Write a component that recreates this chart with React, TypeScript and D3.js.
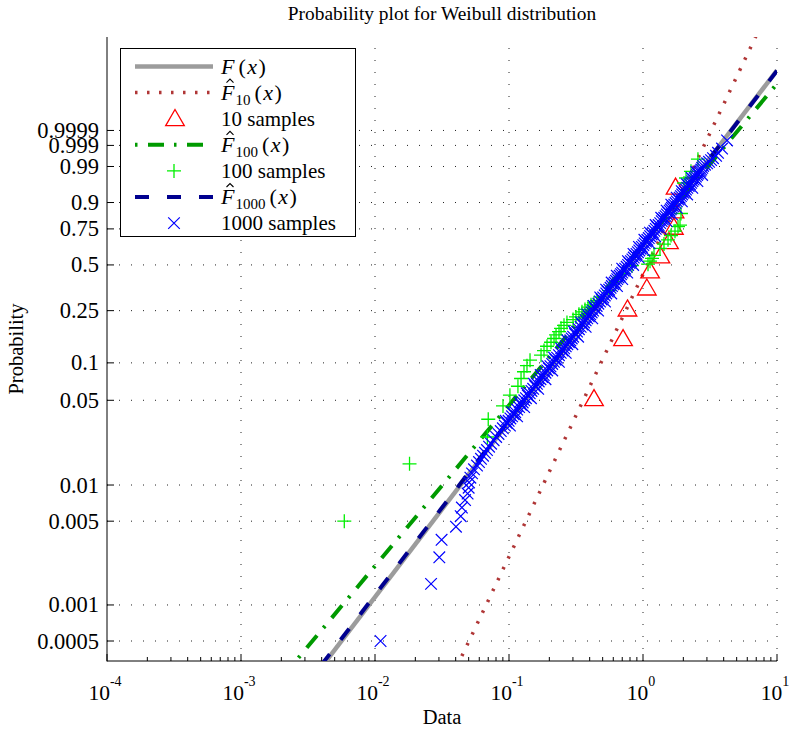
import React from 'react';
import * as d3 from 'd3';

const W = 789;
const H = 730;
const AX = { left: 107, right: 777, top: 37, bottom: 661 };

const titleText = 'Probability plot for Weibull distribution';
const xLabelText = 'Data';
const yLabelText = 'Probability';

const xTickExps = [-4, -3, -2, -1, 0, 1];
const yTickProbs = [0.0005, 0.001, 0.005, 0.01, 0.05, 0.1, 0.25, 0.5, 0.75, 0.9, 0.99, 0.999, 0.9999];
const yTickLabels = ['0.0005', '0.001', '0.005', '0.01', '0.05', '0.1', '0.25', '0.5', '0.75', '0.9', '0.99', '0.999', '0.9999'];
// y axis is log10 of the cumulative hazard, -ln(1-p)
const yDomain = [-3.468, 1.745];

// Weibull fits: F(x), F10, F100, F1000
const fitScales = [1.0, 1.26, 0.98, 0.995];
const fitShapes = [1.467, 2.36, 1.343, 1.46];

const samples10X = [0.431, 0.71, 0.766, 1.068, 1.13, 1.349, 1.563, 1.7, 1.72, 1.75];
const samples10P = [0.05, 0.15, 0.25, 0.35, 0.45, 0.55, 0.65, 0.75, 0.85, 0.95];

const samples100P = [0.005, 0.015, 0.025, 0.035, 0.045, 0.055, 0.065, 0.075, 0.085, 0.095, 0.105, 0.115, 0.125, 0.135, 0.145, 0.155, 0.165, 0.175, 0.185, 0.195, 0.205, 0.215, 0.225, 0.235, 0.245, 0.255, 0.265, 0.275, 0.285, 0.295, 0.345, 0.395, 0.445, 0.495, 0.505, 0.525, 0.545, 0.565, 0.615, 0.645, 0.675, 0.705, 0.735, 0.765, 0.775, 0.845, 0.965, 0.975, 0.985, 0.995];
const samples100X = [0.0059, 0.0181, 0.069, 0.07, 0.0902, 0.1016, 0.1166, 0.123, 0.1294, 0.1362, 0.1435, 0.1734, 0.1825, 0.1922, 0.2058, 0.2168, 0.2244, 0.2362, 0.2445, 0.2573, 0.2708, 0.3006, 0.3162, 0.3327, 0.3505, 0.369, 0.3886, 0.4093, 0.4307, 0.4535, 0.5577, 0.629, 0.71, 0.828, 1.09, 1.128, 1.167, 1.208, 1.339, 1.434, 1.537, 1.618, 1.733, 1.825, 1.889, 1.921, 2.023, 2.094, 2.28, 2.57];

// 1000 samples: band centre, then the band's right and left edges
const samples1000P = [
  0.0005, 0.0015, 0.0025, 0.0035, 0.0045, 0.0055, 0.0065, 0.0075, 0.0085, 0.0095,
  0.0105, 0.0115, 0.0125, 0.0135, 0.0145, 0.0155, 0.0165, 0.0175, 0.0185, 0.0195,
  0.0208, 0.022, 0.0235, 0.025, 0.0265, 0.028, 0.0295, 0.031, 0.0325, 0.034,
  0.0355, 0.037, 0.0385, 0.04, 0.042, 0.044, 0.046, 0.048, 0.05, 0.052,
  0.0545, 0.057, 0.0595, 0.062, 0.065, 0.068, 0.071, 0.074, 0.077, 0.08,
  0.0835, 0.087, 0.0905, 0.094, 0.098, 0.102, 0.106, 0.11, 0.115, 0.12,
  0.125, 0.13, 0.135, 0.14, 0.145, 0.15, 0.155, 0.16, 0.1675, 0.175,
  0.1825, 0.19, 0.1975, 0.205, 0.2125, 0.22, 0.2275, 0.235, 0.2425, 0.25,
  0.26, 0.27, 0.28, 0.29, 0.3, 0.31, 0.32, 0.33, 0.34, 0.35,
  0.36, 0.37, 0.38, 0.39, 0.4, 0.41, 0.42, 0.43, 0.44, 0.45,
  0.4625, 0.475, 0.4875, 0.5, 0.5125, 0.525, 0.5375, 0.55, 0.5625, 0.575,
  0.5875, 0.6, 0.6125, 0.625, 0.6375, 0.65, 0.6625, 0.675, 0.6875, 0.7,
  0.7125, 0.725, 0.7375, 0.75, 0.7625, 0.775, 0.7875, 0.8, 0.81, 0.82,
  0.83, 0.84, 0.85, 0.86, 0.8675, 0.875, 0.8825, 0.89, 0.8975, 0.905,
  0.9125, 0.92, 0.926, 0.932, 0.9375, 0.943, 0.948, 0.953, 0.9575, 0.962,
  0.9655, 0.969, 0.972, 0.975, 0.9775, 0.98, 0.982, 0.984, 0.9855, 0.987, 0.9888,
  0.9905, 0.9915, 0.9925, 0.9935, 0.9945, 0.9955, 0.9965, 0.9975, 0.9985, 0.9995,
  // right edge
  0.031, 0.037, 0.044, 0.052, 0.062, 0.074, 0.087, 0.102, 0.12, 0.14, 0.16, 0.19, 0.22, 0.25, 0.29, 0.33, 0.37,
  0.41, 0.45, 0.5, 0.55, 0.6, 0.65, 0.7, 0.75, 0.8, 0.84, 0.875, 0.905, 0.932, 0.953, 0.969, 0.98,
  // left edge
  0.034, 0.04, 0.048, 0.057, 0.068, 0.08, 0.094, 0.11, 0.13, 0.15, 0.175, 0.205, 0.235, 0.27, 0.31, 0.35, 0.39,
  0.43, 0.475, 0.525, 0.575, 0.625, 0.675, 0.725, 0.775, 0.82, 0.86, 0.89, 0.92, 0.943, 0.962, 0.975, 0.984];
const samples1000X = [
  0.011, 0.0262, 0.0302, 0.0314, 0.0402, 0.0436, 0.0445, 0.047, 0.0491, 0.05,
  0.0503, 0.0515, 0.053, 0.0548, 0.0577, 0.0597, 0.0618, 0.064, 0.0662, 0.0685,
  0.071, 0.0735, 0.0768, 0.0802, 0.0835, 0.0868, 0.09, 0.0932, 0.0963, 0.0994,
  0.1024, 0.1054, 0.1083, 0.1113, 0.1151, 0.119, 0.1227, 0.1265, 0.1301, 0.1338,
  0.1383, 0.1428, 0.1471, 0.1515, 0.1566, 0.1617, 0.1667, 0.1717, 0.1766, 0.1816,
  0.1872, 0.1928, 0.1983, 0.2039, 0.2101, 0.2163, 0.2223, 0.2284, 0.2358, 0.2432,
  0.2506, 0.258, 0.2652, 0.2724, 0.2796, 0.2869, 0.2939, 0.3009, 0.3114, 0.3219,
  0.3322, 0.3425, 0.3528, 0.3632, 0.3734, 0.3836, 0.3937, 0.4039, 0.4139, 0.424,
  0.4374, 0.4508, 0.4642, 0.4777, 0.4912, 0.5048, 0.5183, 0.5318, 0.5454, 0.5591,
  0.5728, 0.5866, 0.6004, 0.6143, 0.6283, 0.6423, 0.6565, 0.6708, 0.6853, 0.6998,
  0.7181, 0.7365, 0.7555, 0.7745, 0.7938, 0.8131, 0.8332, 0.8533, 0.8739, 0.8946,
  0.9161, 0.9376, 0.9599, 0.9822, 1.0057, 1.0292, 1.0537, 1.0782, 1.1042, 1.1303,
  1.158, 1.1858, 1.2155, 1.2452, 1.2772, 1.3092, 1.3442, 1.3793, 1.4097, 1.4401,
  1.4737, 1.5074, 1.5445, 1.5817, 1.6126, 1.6435, 1.6778, 1.7122, 1.7507, 1.7892,
  1.8334, 1.8776, 1.9187, 1.9598, 2.0034, 2.047, 2.0937, 2.1405, 2.1906, 2.2408,
  2.2882, 2.3357, 2.3846, 2.4335, 2.4835, 2.5335, 2.5825, 2.6316, 2.6766, 2.7216, 2.7658,
  2.81, 2.9, 3.01, 3.11, 3.22, 3.33, 3.51, 3.63, 3.89, 4.24,
  // right edge
  0.1016, 0.1149, 0.1297, 0.1458, 0.1651, 0.1872, 0.2102, 0.2358, 0.2651, 0.2969, 0.328, 0.3733, 0.4181, 0.4622, 0.5207, 0.5797, 0.6394,
  0.7001, 0.7628, 0.8442, 0.9301, 1.022, 1.1218, 1.232, 1.3573, 1.5034, 1.6431, 1.7914, 1.9502, 2.1362, 2.3331, 2.5459, 2.7615,
  // left edge
  0.0944, 0.1057, 0.1202, 0.1357, 0.1536, 0.1725, 0.1937, 0.217, 0.2451, 0.2726, 0.3058, 0.345, 0.3837, 0.4283, 0.4796, 0.5311, 0.5836,
  0.6373, 0.6997, 0.7724, 0.8499, 0.9331, 1.0243, 1.1265, 1.2437, 1.3681, 1.5026, 1.6266, 1.7837, 1.9447, 2.1288, 2.3118, 2.5];

const COL = {
  F: '#9c9c9c',
  F10: '#b03636',
  tri: '#ff0000',
  F100: '#009a00',
  plus: '#00f000',
  F1000: '#00008f',
  cross: '#0000ff',
};

const FONT = '"Liberation Serif", "Times New Roman", Times, serif';

const xS = d3.scaleLog().domain([1e-4, 1e1]).range([AX.left, AX.right]);
const yS = d3.scaleLinear().domain(yDomain).range([AX.bottom, AX.top]);
const wt = (p: number) => Math.log10(-Math.log(1 - p));

function triPath(cx: number, cy: number) {
  return `M${cx},${cy - 10.7}L${cx + 9.3},${cy + 5.35}L${cx - 9.3},${cy + 5.35}Z`;
}
function plusPath(cx: number, cy: number) {
  const r = 7;
  return `M${cx - r},${cy}H${cx + r}M${cx},${cy - r}V${cy + r}`;
}
function crossPath(cx: number, cy: number) {
  const r = 5.8;
  return `M${cx - r},${cy - r}L${cx + r},${cy + r}M${cx - r},${cy + r}L${cx + r},${cy - r}`;
}

function fitLine(i: number) {
  const xs = [1e-4, 1e1];
  const line = d3.line<number>()
    .x((x) => xS(x))
    .y((x) => yS(fitShapes[i] * (Math.log10(x) - Math.log10(fitScales[i]))));
  return line(xs) || '';
}

const lineStyles = [
  { stroke: COL.F, width: 4.5, dash: undefined as string | undefined },
  { stroke: COL.F10, width: 3.5, dash: '2.5,9.5' },
  { stroke: COL.F100, width: 4, dash: '16,10,2.5,10.5' },
  { stroke: COL.F1000, width: 4, dash: '14,18' },
];

function Hat({ x, y }: { x: number; y: number }) {
  return <path d={`M${x - 3.5},${y + 2}L${x},${y - 1.5}L${x + 3.5},${y + 2}`} fill="none" stroke="#000" strokeWidth={1.1} />;
}

export default function App() {
  const ticksMinorX: number[] = [];
  for (let e = -4; e < 1; e++) {
    for (let k = 2; k <= 9; k++) ticksMinorX.push(k * Math.pow(10, e));
  }

  const legendRows = [0, 1, 2, 3, 4, 5, 6].map((i) => 66.5 + 26.1 * i);
  const lgX0 = 135, lgX1 = 213, lgMid = 174, lgText = 221;

  const fitLabel = (sub: string | null, ry: number) => (
    <g>
      {sub !== null && <Hat x={lgText + 9} y={ry - 12} />}
      <text x={lgText} y={ry + 7} fontFamily={FONT} fontSize={22}>
        <tspan fontStyle="italic">F</tspan>
        {sub !== null ? (
          <>
            <tspan fontSize={15} dx={1} dy={5}>{sub}</tspan>
            <tspan dy={-5} dx={4}>(</tspan>
          </>
        ) : (
          <tspan dx={4}>(</tspan>
        )}
        <tspan fontStyle="italic" dx={1.5}>x</tspan>
        <tspan dx={1.5}>)</tspan>
      </text>
    </g>
  );

  return (
    <svg width={W} height={H} style={{ position: 'absolute', left: 0, top: 0, background: '#fff' }}>
      <defs>
        <clipPath id="plotClip">
          <rect x={AX.left} y={AX.top} width={AX.right - AX.left} height={AX.bottom - AX.top} />
        </clipPath>
      </defs>
      <rect x={0} y={0} width={W} height={H} fill="#fff" />

      {/* grid */}
      <g stroke="#222" strokeWidth={1} strokeDasharray="1,11" fill="none">
        {xTickExps.slice(1).map((e) => (
          <line key={'gx' + e} x1={xS(Math.pow(10, e))} x2={xS(Math.pow(10, e))} y1={AX.bottom} y2={AX.top} />
        ))}
        {yTickProbs.map((p) => (
          <line key={'gy' + p} x1={AX.left} x2={AX.right} y1={yS(wt(p))} y2={yS(wt(p))} />
        ))}
      </g>

      {/* axes */}
      <g stroke="#000" strokeWidth={1} fill="none">
        <line x1={AX.left} x2={AX.left} y1={AX.top} y2={AX.bottom + 0.5} />
        <line x1={AX.left} x2={AX.right} y1={AX.bottom} y2={AX.bottom} />
        {yTickProbs.map((p) => (
          <line key={'ty' + p} x1={AX.left} x2={AX.left + 7} y1={yS(wt(p))} y2={yS(wt(p))} />
        ))}
        {xTickExps.map((e) => (
          <line key={'tx' + e} x1={xS(Math.pow(10, e))} x2={xS(Math.pow(10, e))} y1={AX.bottom} y2={AX.bottom - 7} />
        ))}
        {ticksMinorX.map((v) => (
          <line key={'mx' + v} x1={xS(v)} x2={xS(v)} y1={AX.bottom} y2={AX.bottom - 4} />
        ))}
      </g>

      {/* y tick labels */}
      <g fontFamily={FONT} fontSize={22.5} textAnchor="end" fill="#000">
        {yTickProbs.map((p, i) => (
          <text key={'ly' + p} x={99} y={yS(wt(p)) + 7.5}>{yTickLabels[i]}</text>
        ))}
      </g>
      {/* x tick labels */}
      <g fontFamily={FONT} fill="#000" textAnchor="middle">
        {xTickExps.map((e) => (
          <text key={'lx' + e} x={xS(Math.pow(10, e)) - 2} y={700} fontSize={21.5}>
            10<tspan fontSize={14} dy={-14}>{e < 0 ? '-' + Math.abs(e) : String(e)}</tspan>
          </text>
        ))}
      </g>

      {/* data */}
      <g clipPath="url(#plotClip)">
        {[0, 1].map((i) => (
          <path key={'fit' + i} d={fitLine(i)} fill="none" stroke={lineStyles[i].stroke} strokeWidth={lineStyles[i].width} strokeDasharray={lineStyles[i].dash} />
        ))}
        {samples10X.map((x, i) => (
          <path key={'s10' + i} d={triPath(xS(x), yS(wt(samples10P[i])))} fill="none" stroke={COL.tri} strokeWidth={1.3} />
        ))}
        <path d={fitLine(2)} fill="none" stroke={lineStyles[2].stroke} strokeWidth={lineStyles[2].width} strokeDasharray={lineStyles[2].dash} />
        {samples100X.map((x, i) => (
          <path key={'s100' + i} d={plusPath(xS(x), yS(wt(samples100P[i])))} fill="none" stroke={COL.plus} strokeWidth={1.3} />
        ))}
        <path d={fitLine(3)} fill="none" stroke={lineStyles[3].stroke} strokeWidth={lineStyles[3].width} strokeDasharray={lineStyles[3].dash} />
        {samples1000X.map((x, i) => (
          <path key={'s1000' + i} d={crossPath(xS(x), yS(wt(samples1000P[i])))} fill="none" stroke={COL.cross} strokeWidth={1.2} />
        ))}
      </g>

      {/* legend */}
      <rect x={120.5} y={48.5} width={235} height={188} fill="#fff" stroke="#000" strokeWidth={1} />
      <line x1={lgX0} x2={lgX1} y1={legendRows[0]} y2={legendRows[0]} stroke={COL.F} strokeWidth={4.5} />
      <line x1={lgX0} x2={lgX1} y1={legendRows[1]} y2={legendRows[1]} stroke={COL.F10} strokeWidth={3.5} strokeDasharray="2.5,9.5" />
      <path d={triPath(lgMid + 1, legendRows[2] + 1.5)} fill="none" stroke={COL.tri} strokeWidth={1.3} />
      <line x1={lgX0} x2={lgX1} y1={legendRows[3]} y2={legendRows[3]} stroke={COL.F100} strokeWidth={4} strokeDasharray="2.5,10.5,16,10" />
      <path d={plusPath(lgMid, legendRows[4])} fill="none" stroke={COL.plus} strokeWidth={1.3} />
      <line x1={lgX0} x2={lgX1} y1={legendRows[5]} y2={legendRows[5]} stroke={COL.F1000} strokeWidth={4} strokeDasharray="14,18" />
      <path d={crossPath(lgMid, legendRows[6])} fill="none" stroke={COL.cross} strokeWidth={1.2} />

      {fitLabel(null, legendRows[0])}
      {fitLabel('10', legendRows[1])}
      <text x={lgText} y={legendRows[2] + 7} fontFamily={FONT} fontSize={21}>10 samples</text>
      {fitLabel('100', legendRows[3])}
      <text x={lgText} y={legendRows[4] + 7} fontFamily={FONT} fontSize={21}>100 samples</text>
      {fitLabel('1000', legendRows[5])}
      <text x={lgText} y={legendRows[6] + 7} fontFamily={FONT} fontSize={21}>1000 samples</text>

      {/* titles */}
      <text x={442} y={20} textAnchor="middle" fontFamily={FONT} fontSize={19.4}>{titleText}</text>
      <text x={442} y={724} textAnchor="middle" fontFamily={FONT} fontSize={20.5}>{xLabelText}</text>
      <text transform="translate(23,349) rotate(-90)" textAnchor="middle" fontFamily={FONT} fontSize={20.5}>{yLabelText}</text>
    </svg>
  );
}
